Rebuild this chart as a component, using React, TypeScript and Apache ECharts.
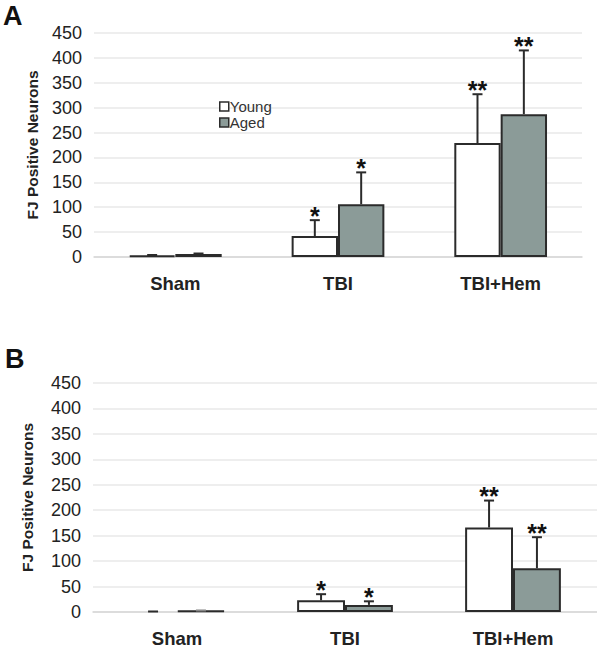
import React, { useEffect, useRef } from "react";
import * as echarts from "echarts";

const categories = ["Sham", "TBI", "TBI+Hem"];
const yTicks = { min: 0, max: 450, interval: 50 };

const aYoung = [3, 42, 229];
const aYoungErr = [1, 32, 98];
const aYoungSig = ["", "*", "**"];
const aAged = [6, 106, 287];
const aAgedErr = [1, 64, 128];
const aAgedSig = ["", "*", "**"];

const bYoung = [0, 23, 166];
const bYoungErr = [1, 12, 53];
const bYoungSig = ["", "*", "**"];
const bAged = [3, 14, 86];
const bAgedErr = [0, 7, 61];
const bAgedSig = ["", "*", "**"];

const FONT = "'Liberation Sans', Arial, sans-serif";
const GAP = 0.43;
const AGED_COLOR = "#8b9b98";
const DARK = "#2b2b2b";

function barData(vals: number[]) {
  return vals.map((v) => (v === 0 ? { value: v, itemStyle: { borderWidth: 0 } } : v));
}

function errSeries(
  name: string,
  vals: number[],
  errs: number[],
  sig: string[],
  side: number,
  axisIdx: number
) {
  return {
    type: "custom",
    name: name + "-err",
    xAxisIndex: axisIdx,
    yAxisIndex: axisIdx,
    z: 5,
    silent: true,
    encode: { x: 0, y: 1 },
    data: vals.map((v, i) => [i, v, errs[i]]),
    renderItem: (params: any, api: any) => {
      const ci = api.value(0);
      const v = api.value(1);
      const e = api.value(2);
      const cw = api.size([1, 0])[0];
      const bw = (cw * (1 - GAP)) / 2;
      const base = api.coord([ci, v]);
      const top = api.coord([ci, v + e]);
      const x = base[0] + (side * bw) / 2;
      const children: any[] = [];
      if (e > 0) {
        children.push({
          type: "line",
          shape: { x1: x, y1: base[1], x2: x, y2: top[1] },
          style: { stroke: DARK, lineWidth: 2 },
        });
      }
      children.push({
        type: "line",
        shape: { x1: x - 5, y1: top[1], x2: x + 5, y2: top[1] },
        style: { stroke: e > 0 ? DARK : "#888", lineWidth: 2 },
      });
      const s = sig[params.dataIndex];
      if (s) {
        children.push({
          type: "text",
          x: x,
          y: top[1] + 8,
          style: {
            text: s,
            fill: "#111",
            font: "bold 25px " + FONT,
            align: "center",
            verticalAlign: "bottom",
          },
        });
      }
      return { type: "group", children };
    },
  };
}

export default function App() {
  const ref = useRef<HTMLDivElement>(null);
  useEffect(() => {
    if (!ref.current) return;
    const chart = echarts.init(ref.current, null, { renderer: "svg" });
    const grids = [
      { left: 94, top: 33, width: 488, height: 224 },
      { left: 93, top: 383, width: 504, height: 230 },
    ];
    const xAxes = grids.map((_, i) => ({
      type: "category",
      gridIndex: i,
      data: categories,
      axisTick: { show: false },
      axisLine: { lineStyle: { color: "#d6d6d6", width: 1.5 } },
      axisLabel: {
        color: "#222",
        fontSize: 18.5,
        fontWeight: "bold",
        fontFamily: FONT,
        margin: 17,
      },
    }));
    const yAxes = grids.map((_, i) => ({
      type: "value",
      gridIndex: i,
      min: yTicks.min,
      max: yTicks.max,
      interval: yTicks.interval,
      name: "FJ Positive Neurons",
      nameLocation: "middle",
      nameRotate: 90,
      nameGap: i === 0 ? 54 : 58,
      nameTextStyle: {
        color: "#222",
        fontSize: 15.5,
        fontWeight: "bold",
        fontFamily: FONT,
      },
      axisLine: { show: false },
      axisTick: { show: false },
      axisLabel: { color: "#222", fontSize: 18, fontFamily: FONT, margin: 12 },
      splitLine: { lineStyle: { color: "#e8e8e8", width: 1.5 } },
    }));
    const barBase = (name: string, color: string, data: number[], idx: number) => ({
      type: "bar",
      name,
      xAxisIndex: idx,
      yAxisIndex: idx,
      barGap: "0%",
      barCategoryGap: GAP * 100 + "%",
      itemStyle: { color, borderColor: DARK, borderWidth: 2 },
      data: barData(data),
    });
    chart.setOption({
      animation: false,
      backgroundColor: "#fff",
      grid: grids,
      xAxis: xAxes,
      yAxis: yAxes,
      legend: {
        data: ["Young", "Aged"],
        orient: "vertical",
        left: 214,
        top: 94,
        itemWidth: 9,
        itemHeight: 9,
        itemGap: 1,
        icon: "rect",
        itemStyle: { borderWidth: 1.5, borderColor: DARK },
        textStyle: { fontSize: 15, color: "#333", fontFamily: FONT, padding: [0, 0, 0, -4] },
      },
      graphic: [
        {
          type: "text",
          left: 3,
          top: 2,
          style: { text: "A", font: "bold 27px " + FONT, fill: "#111" },
        },
        {
          type: "text",
          left: 5,
          top: 345,
          style: { text: "B", font: "bold 27px " + FONT, fill: "#111" },
        },
      ],
      series: [
        barBase("Young", "#ffffff", aYoung, 0),
        barBase("Aged", AGED_COLOR, aAged, 0),
        barBase("Young", "#ffffff", bYoung, 1),
        barBase("Aged", AGED_COLOR, bAged, 1),
        errSeries("Young", aYoung, aYoungErr, aYoungSig, -1, 0),
        errSeries("Aged", aAged, aAgedErr, aAgedSig, 1, 0),
        errSeries("Young", bYoung, bYoungErr, bYoungSig, -1, 1),
        errSeries("Aged", bAged, bAgedErr, bAgedSig, 1, 1),
      ],
    });
    return () => chart.dispose();
  }, []);
  return (
    <div
      ref={ref}
      style={{ position: "absolute", left: 0, top: 0, width: 597, height: 648, background: "#fff" }}
    />
  );
}
